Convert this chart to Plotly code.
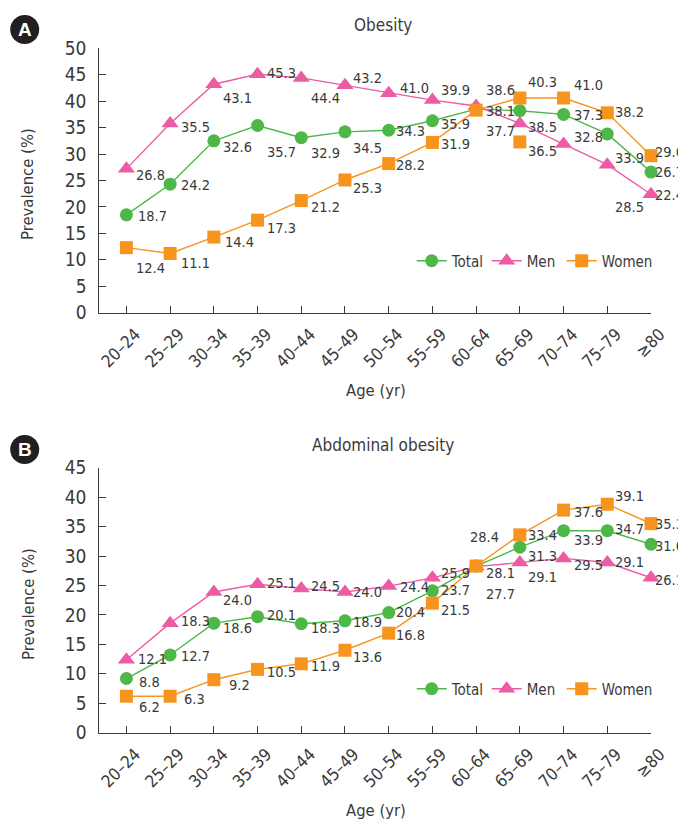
import plotly.graph_objects as go

# ---------------- data ----------------
ages = ["20–24", "25–29", "30–34", "35–39", "40–44", "45–49", "50–54",
        "55–59", "60–64", "65–69", "70–74", "75–79", "≥80"]

# Obesity (panel A) - plotted positions
ob_total = [18.5, 24.3, 32.5, 35.4, 33.1, 34.2, 34.5, 36.3, 38.5, 38.2, 37.5, 33.8, 26.6]
ob_men = [27.2, 35.8, 43.2, 45.1, 44.4, 43.0, 41.5, 40.2, 39.1, 35.8, 31.9, 28.0, 22.4]
ob_women = [12.3, 11.2, 14.3, 17.5, 21.2, 25.1, 28.2, 32.2, 38.3, 40.6, 40.6, 37.8, 29.7]
ob_women_extra_age = ["65–69"]
ob_women_extra = [32.3]

# Obesity labels as printed
ob_total_lbl = ["18.7", "24.2", "32.6", "35.7", "32.9", "34.5", "34.3", "35.9", "38.1", "38.5", "37.3", "33.9", "26.7"]
ob_men_lbl = ["26.8", "35.5", "43.1", "45.3", "44.4", "43.2", "41.0", "39.9", "37.7", "36.5", "32.8", "28.5", "22.4"]
ob_women_lbl = ["12.4", "11.1", "14.4", "17.3", "21.2", "25.3", "28.2", "31.9", "38.6", "40.3", "41.0", "38.2", "29.6"]

# Abdominal obesity (panel B)
ab_total = [9.2, 13.2, 18.6, 19.7, 18.5, 19.0, 20.4, 24.1, 28.3, 31.5, 34.3, 34.3, 32.0]
ab_men = [12.4, 18.6, 23.9, 25.2, 24.5, 23.9, 24.9, 26.3, 28.2, 28.9, 29.6, 28.9, 26.3]
ab_women = [6.2, 6.2, 9.0, 10.75, 11.7, 14.0, 16.9, 22.0, 28.3, 33.6, 37.8, 38.8, 35.5]

ab_total_lbl = ["8.8", "12.7", "18.6", "20.1", "18.3", "18.9", "20.4", "23.7", "28.1", "31.3", "33.9", "34.7", "31.6"]
ab_men_lbl = ["12.1", "18.3", "24.0", "25.1", "24.5", "24.0", "24.4", "25.9", "27.7", "29.1", "29.5", "29.1", "26.1"]
ab_women_lbl = ["6.2", "6.3", "9.2", "10.5", "11.9", "13.6", "16.8", "21.5", "28.4", "33.4", "37.6", "39.1", "35.3"]

y_ticks_a = [0, 5, 10, 15, 20, 25, 30, 35, 40, 45, 50]
y_ticks_b = [0, 5, 10, 15, 20, 25, 30, 35, 40, 45]

# ---------------- label offsets (px: left edge dx, center dy downwards) ----------------
ob_total_off = [(11.6, 2), (11, 2), (9, 7.6), (9, 28), (10, 16), (8, 16.7), (7.7, 1.7), (9, 4.3),
                (10, 2.7), (8, 17), (10, 1.5), (8, 25), (4, 0.5)]
ob_men_off = [(10, 7.5), (11, 5), (9, 15), (9, 0), (10, 21), (8, -6), (11, -4), (9, -9.5),
              (10, 25.7), (8, 29), (10, -6.5), (8, 43), (4, 2)]
ob_women_off = [(10, 21), (11, 10.7), (10.7, 6.3), (9, 8.5), (10, 7), (8, 9), (7.7, 2.5), (9, 2.7),
                (10, -19), (8, -14.7), (10, -12), (8, 0), (4, -3)]
ab_total_off = [(13, 4), (11, 2.5), (9, 5.7), (9, -1), (10, 5), (8, 2.3), (7.7, 0), (9, 0),
                (10, 8), (8, 10), (10, 10), (8, -0.7), (4, 3)]
ab_men_off = [(11.6, 0.7), (11, -1), (9, 9), (9, 0), (10, -1.7), (8, 1), (11, 2.3), (9, -3.7),
              (10, 28), (8, 15), (10, 7.5), (8, 0), (4, 3)]
ab_women_off = [(13, 12), (14, 3.7), (15, 6), (9, 4), (10, 3.5), (8, 7.5), (7.7, 2.5), (9, 7.5),
                (-6, -28.5), (8, 0.8), (10, 3.3), (8, -7.3), (4, 1)]

# ---------------- style ----------------
PAGE_W, PAGE_H = 686, 823
BODY = 8  # default page margin around the figure
W, H = PAGE_W - BODY, PAGE_H - BODY
GREEN = "#4db848"
PINK = "#ec5ba4"
ORANGE = "#f7941d"
TXT = "#3a3a3a"
FONT = "DejaVu Sans Condensed, Liberation Sans Narrow, DejaVu Sans, sans-serif"

X0, X1 = 99.3, 651.0
A_TOP, A_BOT = 48.3, 312.7
B_TOP, B_BOT = 467.7, 732.7


def px(x):
    return (x - BODY) / W


def py(y):
    return 1 - (y - BODY) / H


fig = go.Figure()

series = [
    ("Total", GREEN, "circle", 13, 30),
    ("Men", PINK, "triangle-up", 15, 30),
    ("Women", ORANGE, "square", 13, 56),
]

panel_data = [
    ("x", "y", "legend", [ob_total, ob_men, ob_women]),
    ("x2", "y2", "legend2", [ab_total, ab_men, ab_women]),
]

for xa, ya, lg, vals in panel_data:
    for (name, col, sym, sz, lw), v in zip(series, vals):
        fig.add_trace(go.Scatter(
            x=ages, y=v, name=name, mode="lines+markers",
            line=dict(color=col, width=1.4),
            marker=dict(color=col, symbol=sym, size=sz),
            xaxis=xa, yaxis=ya, legend=lg, legendwidth=lw, cliponaxis=False,
        ))

# stray marker visible in the original panel A
fig.add_trace(go.Scatter(
    x=ob_women_extra_age, y=ob_women_extra, mode="markers",
    marker=dict(color=ORANGE, symbol="square", size=13),
    showlegend=False, xaxis="x", yaxis="y", cliponaxis=False,
))

annotations = []


def add_labels(xref, yref, vals, lbls, offs):
    for a, v, t, (dx, dy) in zip(ages, vals, lbls, offs):
        annotations.append(dict(
            x=a, y=v, xref=xref, yref=yref, text=t, showarrow=False,
            xanchor="left", yanchor="middle", xshift=dx - 1, yshift=-dy + 1,
            borderpad=0,
            font=dict(family=FONT, size=14.5, color=TXT),
        ))


add_labels("x", "y", ob_total, ob_total_lbl, ob_total_off)
add_labels("x", "y", ob_men, ob_men_lbl, ob_men_off)
add_labels("x", "y", ob_women, ob_women_lbl, ob_women_off)
add_labels("x2", "y2", ab_total, ab_total_lbl, ab_total_off)
add_labels("x2", "y2", ab_men, ab_men_lbl, ab_men_off)
add_labels("x2", "y2", ab_women, ab_women_lbl, ab_women_off)

# titles, axis titles
for text, y in [("Obesity", 25), ("Abdominal obesity", 445)]:
    annotations.append(dict(x=px(383), y=py(y), xref="paper", yref="paper", text=text,
                            showarrow=False, xanchor="center", yanchor="middle",
                            font=dict(family=FONT, size=17, color=TXT)))
for y in [391, 810]:
    annotations.append(dict(x=px(376), y=py(y), xref="paper", yref="paper", text="Age (yr)",
                            showarrow=False, xanchor="center", yanchor="middle",
                            font=dict(family=FONT, size=16.5, color=TXT)))
for y in [184, 604]:
    annotations.append(dict(x=px(28), y=py(y), xref="paper", yref="paper", text="Prevalence (%)",
                            showarrow=False, xanchor="center", yanchor="middle", textangle=-90,
                            font=dict(family=FONT, size=16.5, color=TXT)))

# panel badges
shapes = []
for letter, cy in [("A", 29.5), ("B", 449.5)]:
    r = 14.5
    shapes.append(dict(type="circle", xref="paper", yref="paper",
                       x0=px(24.7 - r), x1=px(24.7 + r), y0=py(cy + r), y1=py(cy - r),
                       fillcolor="#231f20", line=dict(width=0)))
    annotations.append(dict(x=px(24.7), y=py(cy), xref="paper", yref="paper", text=f"<b>{letter}</b>",
                            showarrow=False, xanchor="center", yanchor="middle",
                            font=dict(family="Liberation Sans, Arial, sans-serif", size=19, color="white")))

axis_common = dict(showline=True, linecolor=TXT, linewidth=1, ticks="inside", ticklen=7,
                   tickcolor=TXT, tickwidth=1, showgrid=False, zeroline=False, automargin=False)

xcommon = dict(axis_common, type="category", range=[-0.62, 12], tickangle=-45,
               categoryorder="array", categoryarray=ages,
               ticklabelshift=9, ticklabelstandoff=4,
               tickfont=dict(family=FONT, size=17, color=TXT))
ycommon = dict(axis_common, ticklabelstandoff=8,
               tickfont=dict(family=FONT, size=19, color=TXT))

legend_style = dict(orientation="h", xanchor="left", yanchor="middle",
                    entrywidthmode="pixels", entrywidth=30,
                    font=dict(family=FONT, size=15, color=TXT), bgcolor="rgba(0,0,0,0)")

fig.update_layout(
    width=W, height=H,
    margin=dict(l=0, r=0, t=0, b=0, autoexpand=False),
    paper_bgcolor="white", plot_bgcolor="white",
    xaxis=dict(xcommon, domain=[px(X0), px(X1)], anchor="y"),
    yaxis=dict(ycommon, domain=[py(A_BOT), py(A_TOP)], range=[0, 50],
               tickvals=y_ticks_a, anchor="x"),
    xaxis2=dict(xcommon, domain=[px(X0), px(X1)], anchor="y2"),
    yaxis2=dict(ycommon, domain=[py(B_BOT), py(B_TOP)], range=[0, 45],
                tickvals=y_ticks_b, anchor="x2"),
    legend=dict(legend_style, x=px(411.7), y=py(261)),
    legend2=dict(legend_style, x=px(411.7), y=py(689)),
    annotations=annotations,
    shapes=shapes,
    showlegend=True,
)

fig.write_html("out.html")
